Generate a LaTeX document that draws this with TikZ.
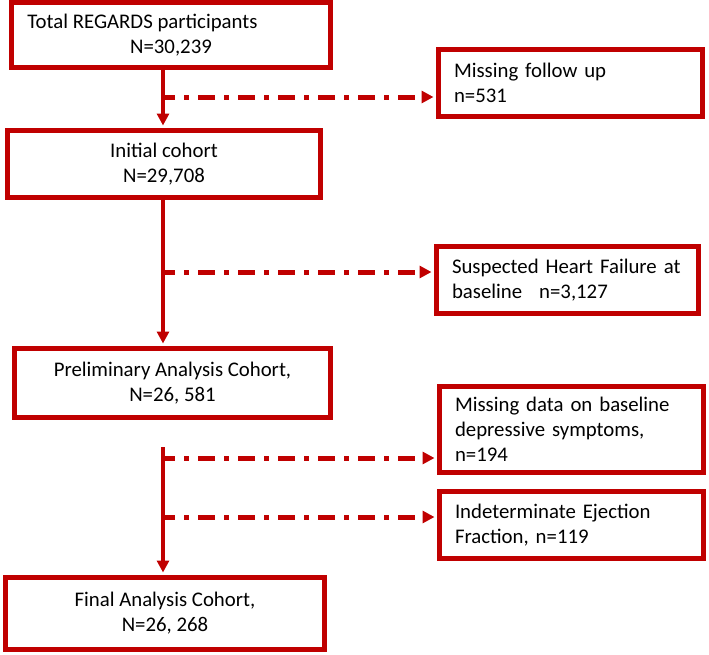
\documentclass[tikz,border=0pt]{standalone}
\usepackage{fontspec}
\setmainfont{Carlito}
\usepackage{xcolor}
\usepackage{tikz}
\usetikzlibrary{arrows.meta}
\usetikzlibrary{positioning, calc}
\definecolor{boxred}{RGB}{192,0,0}

\begin{document}
\begin{tikzpicture}[x=1pt, y=-1pt,
    mainbox/.style={draw=boxred, line width=5pt, align=center, inner sep=0pt, font=\fontsize{20.8}{25}\selectfont},
    sidebox/.style={draw=boxred, line width=5pt, align=left, inner xsep=15.5pt, inner ysep=0pt, font=\fontsize{20.8}{25}\selectfont},
    flow/.style={boxred, line width=4pt, shorten >=2.5pt, -{Triangle[length=12pt, width=12pt]}},
    exclude/.style={boxred, line width=5pt, shorten >=2.5pt, dash pattern=on 17pt off 9pt on 5pt off 9pt, dash phase=5pt, -{Triangle[length=12pt, width=12pt]}}]
    \useasboundingbox (0,0) rectangle (709,654);

    % Cohort boxes
    \node[mainbox, minimum width=319pt, minimum height=65pt] (total) at (171,35) {Total REGARDS participants\hspace*{57pt}\\N=30,239};
    \node[mainbox, minimum width=313pt, minimum height=67pt] (initial) at (164,164) {Initial cohort\\N=29,708};
    \node[mainbox, minimum width=316pt, minimum height=69pt] (prelim) at (172.5,383) {Preliminary Analysis Cohort,\\N=26, 581};
    \node[mainbox, minimum width=319pt, minimum height=72pt] (final) at (165,613.5) {Final Analysis Cohort,\\N=26, 268};

    % Exclusion boxes
    \node[sidebox, text width=233pt, minimum height=67pt] (nofollow) at (570.5,83) {Missing follow up\\n=531};
    \node[sidebox, text width=231pt, minimum height=67pt] (suspect) at (567.5,280) {Suspected Heart Failure at\\baseline\hspace{17pt}n=3,127};
    \node[sidebox, text width=233pt, minimum height=86pt] (nodepr) at (571.5,429.5) {Missing data on baseline\\depressive symptoms,\\n=194};
    \node[sidebox, text width=233pt, minimum height=67pt] (noef) at (571.5,525) {Indeterminate Ejection\\Fraction, n=119};

    % Spine and branch points
    \coordinate (spine) at (163,0);
    \coordinate (b1) at (163,97);
    \coordinate (b2) at (163,272);
    \coordinate (s3) at (163,447);
    \coordinate (b3) at (163,458);
    \coordinate (b4) at (163,517);

    % Main flow
    \draw[flow] (total.south -| spine) -- (initial.north -| spine);
    \draw[flow] (initial.south -| spine) -- (prelim.north -| spine);
    \draw[flow] (s3) -- (final.north -| spine);

    % Exclusions
    \draw[exclude] (b1) -- (b1 -| nofollow.west);
    \draw[exclude] (b2) -- (b2 -| suspect.west);
    \draw[exclude] (b3) -- (b3 -| nodepr.west);
    \draw[exclude] (b4) -- (b4 -| noef.west);
\end{tikzpicture}
\end{document}
